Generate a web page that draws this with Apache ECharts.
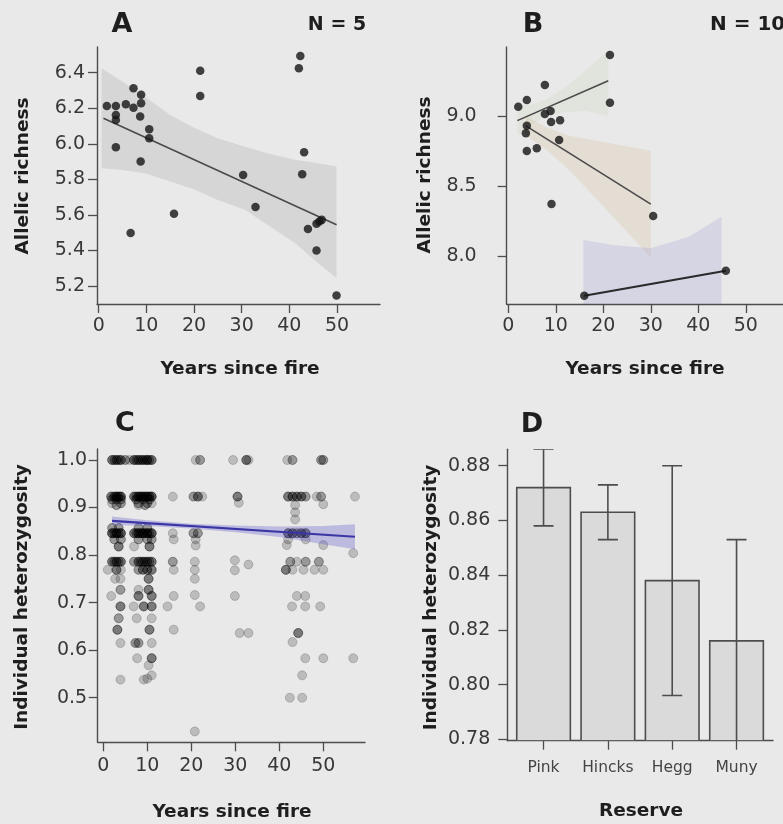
<!DOCTYPE html>
<html>
<head>
<meta charset="utf-8">
<script src="https://cdn.jsdelivr.net/npm/echarts@6/dist/echarts.min.js"></script>
<style>
  html, body { margin: 0; padding: 0; background: #e9e9e9; }
  #chart { width: 783px; height: 824px; }
</style>
</head>
<body>
<div id="chart"></div>
<script>
// ---------- Panel A: allelic richness, N = 5 ----------
const richA_years  = [1.7, 3.6, 3.6, 3.6, 3.6, 5.7, 7.3, 7.3, 8.9, 8.9, 8.7, 8.8, 10.6, 10.6, 6.7, 15.8, 21.3, 21.3, 30.3, 32.9, 42.0, 42.3, 43.1, 42.7, 43.9, 45.7, 46.3, 46.8, 45.7, 49.9];
const richA_values = [6.213, 6.213, 6.162, 6.134, 5.98, 6.222, 6.312, 6.203, 6.276, 6.228, 6.153, 5.9, 6.082, 6.031, 5.498, 5.606, 6.411, 6.269, 5.825, 5.644, 6.425, 6.494, 5.953, 5.829, 5.52, 5.4, 5.563, 5.572, 5.55, 5.146];
const fitA_years  = [1.0, 49.9];
const fitA_values = [6.144, 5.544];
const ciA_years = [0.6, 5, 9.7, 15, 20.2, 25, 30.7, 36, 41.2, 46, 49.9];
const ciA_upper = [6.425, 6.349, 6.265, 6.162, 6.088, 6.031, 5.984, 5.943, 5.91, 5.891, 5.872];
const ciA_lower = [5.863, 5.853, 5.835, 5.788, 5.741, 5.684, 5.629, 5.534, 5.442, 5.329, 5.245];
const ticksA_x = [0, 10, 20, 30, 40, 50];
const ticksA_y = [5.2, 5.4, 5.6, 5.8, 6.0, 6.2, 6.4];

// ---------- Panel B: allelic richness, N = 10, three groups ----------
const richB_years  = [2.1, 3.9, 7.7, 21.4, 21.4, 7.7, 8.9, 9.0, 10.9, 3.9, 3.7, 3.9, 6.0, 10.7, 9.1, 30.5, 16.0, 45.8];
const richB_values = [9.066, 9.114, 9.221, 9.436, 9.095, 9.014, 9.036, 8.957, 8.969, 8.931, 8.876, 8.75, 8.769, 8.829, 8.371, 8.286, 7.716, 7.895];
const fitB1_years = [1.9, 21.05],  fitB1_values = [8.967, 9.252];
const fitB2_years = [3.7, 30.0],   fitB2_values = [8.93, 8.371];
const fitB3_years = [16.0, 45.8],  fitB3_values = [7.716, 7.895];
const ciB1_years = [1.9, 5, 8, 12, 16, 21.05];
const ciB1_upper = [9.077, 9.083, 9.118, 9.207, 9.317, 9.472];
const ciB1_lower = [8.857, 8.943, 8.998, 9.027, 9.037, 9.002];
const ciB2_years = [3.7, 8, 12.6, 18, 24, 30];
const ciB2_upper = [9.0, 8.919, 8.861, 8.826, 8.789, 8.751];
const ciB2_lower = [8.86, 8.759, 8.621, 8.426, 8.209, 7.991];
const ciB3_years = [15.8, 22, 30, 38, 44.9];
const ciB3_upper = [8.114, 8.079, 8.055, 8.138, 8.281];
const ciB3_lower = [7.318, 7.39, 7.545, 7.5, 7.51];
const ticksB_x = [0, 10, 20, 30, 40, 50];
const ticksB_y = [8.0, 8.5, 9.0];

// ---------- Panel C: individual heterozygosity ----------
// [years since fire, heterozygosity, number of individuals]
const hetC_points = [
  // 1.0
  [2,1,3],[2.5,1,2],[3,1,3],[3.5,1,2],[4,1,3],[5,1,2],[6,1,1],[7,1,3],[7.5,1,2],[8,1,3],[8.5,1,2],
  [9,1,3],[9.5,1,2],[10,1,4],[10.5,1,2],[11,1,3],
  [21,1,1],[22,1,2],[29.5,1,1],[32.5,1,3],[33,1,1],[41.8,1,1],[43,1,2],[49.5,1,2],[50,1,2],
  // 0.92 band
  [1.8,0.923,3],[2.5,0.923,3],[3,0.923,4],[3.5,0.923,3],[4,0.923,4],[7,0.923,3],[7.5,0.923,2],[8,0.923,4],
  [8.5,0.923,3],[9,0.923,4],[9.5,0.923,3],[10,0.923,4],[10.5,0.923,3],[11,0.923,4],
  [2,0.917,2],[3,0.917,2],[4,0.917,2],[7.5,0.917,2],[9,0.917,2],[10.5,0.917,2],
  [2,0.909,1],[4,0.909,2],[8,0.909,2],[10,0.909,2],[11,0.909,1],
  [15.8,0.923,1],[20.5,0.923,2],[21.5,0.923,3],[22.5,0.923,1],[30.5,0.923,3],
  [42,0.923,3],[43,0.923,3],[44,0.923,3],[45,0.923,3],[46,0.923,2],[48.5,0.923,1],[49.5,0.923,2],[57.2,0.923,1],
  [3,0.905,2],[8,0.905,1],[9.5,0.905,2],[30.8,0.91,1],[50,0.907,1],[43.6,0.905,1],[43.6,0.89,1],[43.6,0.875,1],
  // 0.85 band
  [2,0.846,4],[2.5,0.846,2],[3,0.846,4],[3.5,0.846,2],[4,0.846,4],[7,0.846,3],[7.5,0.846,2],[8,0.846,4],
  [8.5,0.846,2],[9,0.846,4],[9.5,0.846,2],[10,0.846,4],[10.5,0.846,2],[11,0.846,4],
  [2,0.857,2],[3.5,0.857,2],[8,0.857,2],[10,0.857,2],
  [2.5,0.833,2],[4,0.833,2],[8,0.833,2],[10,0.833,2],[11,0.833,2],
  [15.8,0.846,1],[16,0.833,1],[20.5,0.846,2],[21.5,0.846,2],[21,0.833,1],[21,0.82,1],
  [42,0.846,3],[43,0.846,3],[44,0.846,2],[45,0.846,3],[46,0.846,3],[42,0.833,1],[46,0.833,1],
  [3.5,0.818,3],[7,0.818,1],[10.5,0.818,3],[41.7,0.821,1],[50,0.821,1],[56.8,0.804,1],
  // 0.78 band
  [2,0.786,3],[2.5,0.786,2],[3,0.786,3],[3.5,0.786,2],[4,0.786,3],[7,0.786,2],[8,0.786,3],[8.5,0.786,2],
  [9,0.786,3],[9.5,0.786,2],[10,0.786,3],[10.5,0.786,2],[11,0.786,3],
  [15.8,0.786,2],[20.8,0.786,1],[29.9,0.789,1],[33,0.78,1],[42.5,0.786,2],[44,0.786,1],[46,0.786,2],[49,0.786,2],
  [1,0.769,1],[3,0.769,3],[4,0.769,1],[8,0.769,2],[9,0.769,3],[10,0.769,3],[11,0.769,3],
  [16,0.769,1],[20.8,0.769,1],[29.9,0.768,1],[41.5,0.769,3],[43,0.769,1],[45.5,0.769,1],[48,0.769,1],[50,0.769,1],
  // below 0.76
  [2.7,0.75,1],[3.9,0.75,1],[10.3,0.75,3],[20.8,0.75,1],
  [3.9,0.727,2],[8,0.727,1],[10.3,0.727,3],
  [1.8,0.714,1],[8,0.714,3],[11,0.714,3],[16,0.714,1],[20.8,0.716,1],[29.9,0.714,1],[44,0.714,1],[45.9,0.714,1],
  [3.9,0.692,3],[6.9,0.692,1],[9.2,0.692,3],[11,0.692,3],[14.6,0.692,1],[22,0.692,1],[42.9,0.692,1],[45.9,0.692,1],[49.3,0.692,1],
  [3.5,0.667,2],[7.6,0.667,1],[11,0.667,1],
  [3.2,0.643,3],[10.5,0.643,3],[16,0.643,1],[31,0.636,1],[33,0.636,1],[44.3,0.636,3],
  [3.9,0.615,1],[7.3,0.615,2],[8,0.615,2],[11,0.615,1],[43,0.617,1],
  [7.7,0.583,1],[11,0.583,3],[45.9,0.583,1],[50,0.583,1],[56.8,0.583,1],
  [10.3,0.568,1],[11,0.547,1],[45.2,0.547,1],
  [3.9,0.538,1],[9.2,0.538,1],[10,0.54,1],
  [42.4,0.5,1],[45.2,0.5,1],
  [20.8,0.429,1]
];
const fitC_years  = [2, 57.2];
const fitC_values = [0.872, 0.8385];
const ciC_years = [2, 10, 20, 30, 40, 50, 57.2];
const ciC_upper = [0.881, 0.873, 0.866, 0.862, 0.860, 0.861, 0.865];
const ciC_lower = [0.863, 0.861, 0.856, 0.848, 0.838, 0.823, 0.812];
const ticksC_x = [0, 10, 20, 30, 40, 50];
const ticksC_y = [0.5, 0.6, 0.7, 0.8, 0.9, 1.0];

// ---------- Panel D: heterozygosity by reserve ----------
const reserves     = ['Pink', 'Hincks', 'Hegg', 'Muny'];
const reserveMean  = [0.872, 0.863, 0.838, 0.816];
const reserveLow   = [0.858, 0.853, 0.796, 0.779];
const reserveHigh  = [0.886, 0.873, 0.880, 0.853];
const ticksD_y = [0.78, 0.80, 0.82, 0.84, 0.86, 0.88];

// barplot layout: unit-wide bars separated by 0.2 units
const barCenter = i => 0.2 + 1.2 * i + 0.5;

const TICK_FONT = 'DejaVu Sans';
const TICK_SIZE = 19;
const AXIS_COLOR = '#4d4d4d';
const LABEL_COLOR = '#383838';

function xAxisOf(gridIndex, min, max, ticks, margin, extra) {
  return Object.assign({
    type: 'value', gridIndex, min, max,
    axisLine: { show: true, onZero: false, lineStyle: { color: AXIS_COLOR, width: 1.4 } },
    axisTick: { show: true, length: 9, customValues: ticks, lineStyle: { color: AXIS_COLOR, width: 1.3 } },
    axisLabel: { show: true, customValues: ticks, margin, color: LABEL_COLOR, fontFamily: TICK_FONT, fontSize: TICK_SIZE },
    splitLine: { show: false }
  }, extra || {});
}
function yAxisOf(gridIndex, min, max, ticks, margin, digits) {
  return {
    type: 'value', gridIndex, min, max,
    axisLine: { show: true, onZero: false, lineStyle: { color: AXIS_COLOR, width: 1.4 } },
    axisTick: { show: true, length: 9, customValues: ticks, lineStyle: { color: AXIS_COLOR, width: 1.3 } },
    axisLabel: { show: true, customValues: ticks, margin, color: LABEL_COLOR, fontFamily: TICK_FONT, fontSize: TICK_SIZE,
                 formatter: v => Number(v).toFixed(digits) },
    splitLine: { show: false }
  };
}

function bandSeries(axis, xs, lo, hi, color, z) {
  return {
    type: 'custom', xAxisIndex: axis, yAxisIndex: axis, clip: true, silent: true, z,
    data: xs.map((x, i) => [x, lo[i], hi[i]]),
    encode: { x: 0, y: [1, 2] },
    renderItem(params, api) {
      if (params.dataIndex !== 0) return null;
      const pts = [];
      xs.forEach((x, i) => pts.push(api.coord([x, hi[i]])));
      for (let i = xs.length - 1; i >= 0; i--) pts.push(api.coord([xs[i], lo[i]]));
      return { type: 'polygon', shape: { points: pts }, style: { fill: color } };
    }
  };
}
function fitSeries(axis, xs, ys, color, width, z) {
  return {
    type: 'line', xAxisIndex: axis, yAxisIndex: axis, z, silent: true,
    data: xs.map((x, i) => [x, ys[i]]),
    showSymbol: false, symbol: 'none',
    lineStyle: { color, width }
  };
}

const hetExpanded = [];
hetC_points.forEach(([x, y, n]) => { for (let k = 0; k < n; k++) hetExpanded.push([x, y]); });

const chart = echarts.init(document.getElementById('chart'), null, { renderer: 'canvas' });

const titleFont = 'bold 18.5px "DejaVu Sans"';
function label(text, x, y, font, rotate, align) {
  return {
    type: 'text', x, y, rotation: rotate ? Math.PI / 2 : 0, silent: true,
    style: { text, font, fill: '#1e1e1e', align: align || 'center', verticalAlign: 'middle' }
  };
}

chart.setOption({
  backgroundColor: '#e9e9e9',
  animation: false,
  grid: [
    { left: 97,    top: 47,    width: 283,   height: 257,   outerBoundsMode: 'none' },
    { left: 506.7, top: 47,    width: 276.3, height: 257,   outerBoundsMode: 'none' },
    { left: 97.7,  top: 449,   width: 267.3, height: 293.3, outerBoundsMode: 'none' },
    { left: 507.3, top: 449.3, width: 265.7, height: 291.4, outerBoundsMode: 'none' }
  ],
  xAxis: [
    xAxisOf(0, -0.357, 59.02, ticksA_x, 13),
    xAxisOf(1, -0.337, 57.83, ticksB_x, 13),
    xAxisOf(2, -1.27, 59.48, ticksC_x, 14),
    xAxisOf(3, 0.024, 4.98, reserves.map((_, i) => barCenter(i)), 19, {
      axisLabel: {
        show: true, customValues: reserves.map((_, i) => barCenter(i)), margin: 19,
        color: '#444', fontFamily: TICK_FONT, fontSize: 15.5,
        formatter: v => reserves[reserves.findIndex((_, i) => Math.abs(barCenter(i) - v) < 1e-6)] || ''
      }
    })
  ],
  yAxis: [
    yAxisOf(0, 5.0987, 6.5446, ticksA_y, 12, 1),
    yAxisOf(1, 7.657, 9.493, ticksB_y, 30, 1),
    yAxisOf(2, 0.4062, 1.0231, ticksC_y, 10.5, 1),
    yAxisOf(3, 0.7795, 0.886, ticksD_y, 17, 2)
  ],
  graphic: [
    label('A', 122, 25, 'bold 27px "DejaVu Sans"'),
    label('N = 5', 337, 25, 'bold 19px "DejaVu Sans"'),
    label('B', 533, 25, 'bold 27px "DejaVu Sans"'),
    label('N = 10', 710, 25, 'bold 20px "DejaVu Sans"', false, 'left'),
    label('C', 125, 424, 'bold 27px "DejaVu Sans"'),
    label('D', 532, 425, 'bold 27px "DejaVu Sans"'),
    label('Allelic richness', 23, 176, titleFont, true),
    label('Allelic richness', 425, 175, titleFont, true),
    label('Individual heterozygosity', 22.5, 597, titleFont, true),
    label('Individual heterozygosity', 431, 597.5, titleFont, true),
    label('Years since fire', 240, 369, titleFont),
    label('Years since fire', 645, 369, titleFont),
    label('Years since fire', 232, 812.5, titleFont),
    label('Reserve', 641, 811, titleFont)
  ],
  series: [
    // Panel A
    bandSeries(0, ciA_years, ciA_lower, ciA_upper, '#d6d6d6', 1),
    fitSeries(0, fitA_years, fitA_values, '#4a4a4a', 1.6, 2),
    { type: 'scatter', xAxisIndex: 0, yAxisIndex: 0, z: 3, symbolSize: 8.5, silent: true,
      data: richA_years.map((x, i) => [x, richA_values[i]]), itemStyle: { color: '#141414' } },

    // Panel B
    bandSeries(1, ciB1_years, ciB1_lower, ciB1_upper, 'rgba(170,200,140,0.13)', 1),
    bandSeries(1, ciB2_years, ciB2_lower, ciB2_upper, 'rgba(215,185,145,0.24)', 1),
    bandSeries(1, ciB3_years, ciB3_lower, ciB3_upper, 'rgba(140,140,210,0.22)', 1),
    fitSeries(1, fitB1_years, fitB1_values, '#4a4a4a', 1.6, 2),
    fitSeries(1, fitB2_years, fitB2_values, '#4a4a4a', 1.6, 2),
    fitSeries(1, fitB3_years, fitB3_values, '#2a2a2a', 2, 2),
    { type: 'scatter', xAxisIndex: 1, yAxisIndex: 1, z: 3, symbolSize: 8.5, silent: true,
      data: richB_years.map((x, i) => [x, richB_values[i]]), itemStyle: { color: '#141414' } },

    // Panel C
    { type: 'scatter', xAxisIndex: 2, yAxisIndex: 2, z: 1, symbolSize: 9, silent: true, large: false,
      data: hetExpanded,
      itemStyle: { color: 'rgba(0,0,0,0.24)', borderColor: 'rgba(0,0,0,0.22)', borderWidth: 1 } },
    bandSeries(2, ciC_years, ciC_lower, ciC_upper, 'rgba(85,80,200,0.3)', 2),
    fitSeries(2, fitC_years, fitC_values, '#3b36a6', 2.2, 3),

    // Panel D: bars
    { type: 'custom', xAxisIndex: 3, yAxisIndex: 3, clip: true, z: 1, silent: true,
      data: reserveMean.map((v, i) => [barCenter(i), v]),
      encode: { x: 0, y: 1 },
      renderItem(params, api) {
        const x = api.value(0), v = api.value(1);
        const tl = api.coord([x - 0.5, v]);
        const tr = api.coord([x + 0.5, v]);
        const bottom = params.coordSys.y + params.coordSys.height;
        return { type: 'rect',
          shape: { x: tl[0], y: tl[1], width: tr[0] - tl[0], height: bottom - tl[1] },
          style: { fill: '#dadada', stroke: '#4d4d4d', lineWidth: 1.6 } };
      } },
    // Panel D: error bars
    { type: 'custom', xAxisIndex: 3, yAxisIndex: 3, clip: true, z: 2, silent: true,
      data: reserveMean.map((_, i) => [barCenter(i), reserveLow[i], reserveHigh[i]]),
      encode: { x: 0, y: [1, 2] },
      renderItem(params, api) {
        const x = api.value(0);
        const lo = api.coord([x, api.value(1)]);
        const hi = api.coord([x, api.value(2)]);
        const cap = 10;
        const st = { stroke: '#4d4d4d', lineWidth: 1.6 };
        return { type: 'group', children: [
          { type: 'line', shape: { x1: lo[0], y1: lo[1], x2: hi[0], y2: hi[1] }, style: st },
          { type: 'line', shape: { x1: hi[0] - cap, y1: hi[1], x2: hi[0] + cap, y2: hi[1] }, style: st },
          { type: 'line', shape: { x1: lo[0] - cap, y1: lo[1], x2: lo[0] + cap, y2: lo[1] }, style: st }
        ] };
      } }
  ]
});
</script>
</body>
</html>
